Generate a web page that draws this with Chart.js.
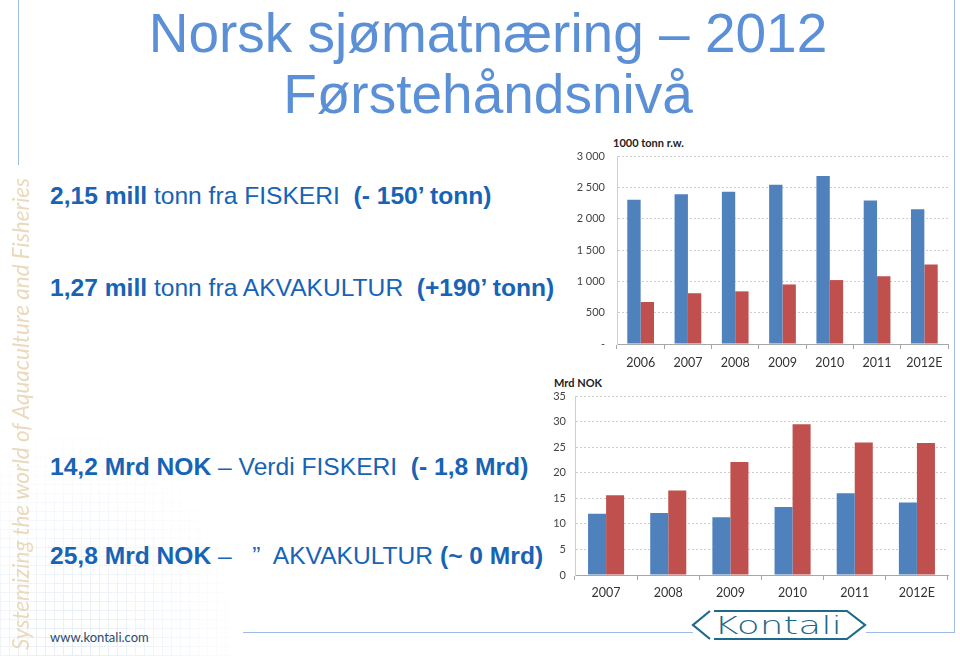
<!DOCTYPE html>
<html>
<head>
<meta charset="utf-8">
<script src="https://cdn.jsdelivr.net/npm/chart.js@4"></script>
<style>
  body { margin: 0; background: #fff; }
  #slide { position: relative; width: 960px; height: 656px; overflow: hidden; background: #fff; font-family: "Liberation Sans", Arial, sans-serif; }
  .abs { position: absolute; }
  .title { left: 0; width: 976px; text-align: center; color: #5b8fd6; font-size: 55px; line-height: 60px; }
  .fact { left: 50px; color: #1763b5; font-size: 24.6px; line-height: 28px; white-space: pre; }
  .fact b { font-weight: bold; }
  .unit { font-family: Lato, "Open Sans", sans-serif; font-weight: bold; font-size: 11px; color: #222; }
  #watermark { left: 7px; top: 158px; height: 492px; writing-mode: vertical-rl; transform: rotate(180deg); font-family: Lato, sans-serif; font-style: italic; font-size: 22.5px; color: #ead9bb; white-space: nowrap; text-align: left; }
  #gridbg { left: 0; top: 430px; width: 245px; height: 226px;
    background-image: linear-gradient(#dfe8f3 1px, transparent 1px), linear-gradient(90deg, #dfe8f3 1px, transparent 1px);
    background-size: 9px 9px;
    -webkit-mask-image: radial-gradient(ellipse at 30% 100%, rgba(0,0,0,0.8), rgba(0,0,0,0) 75%);
    mask-image: radial-gradient(ellipse at 30% 100%, rgba(0,0,0,0.8), rgba(0,0,0,0) 75%); }
  .line { background: #9dbbe6; }
  #web { left: 50px; top: 629px; font-family: Lato, sans-serif; font-size: 13px; color: #2c4a6e; }
</style>
</head>
<body>
<div id="slide">
  <div id="gridbg" class="abs"></div>
  <div class="abs line" style="left:18px;top:0;width:1px;height:165px;"></div>
  <div class="abs line" style="left:954px;top:0;width:1px;height:632px;"></div>
  <div class="abs line" style="left:243px;top:632px;width:450px;height:1px;"></div>
  <div class="abs line" style="left:866px;top:632px;width:89px;height:1px;"></div>

  <div id="watermark" class="abs">Systemizing the world of Aquaculture and Fisheries</div>

  <div class="abs title" style="top:3px;">Norsk sjømatnæring – 2012</div>
  <div class="abs title" style="top:64px;">Førstehåndsnivå</div>

  <div class="abs fact" style="top:182px;"><b>2,15 mill</b> tonn fra FISKERI  <b>(- 150’ tonn)</b></div>
  <div class="abs fact" style="top:274px;"><b>1,27 mill</b> tonn fra AKVAKULTUR  <b>(+190’ tonn)</b></div>
  <div class="abs fact" style="top:453px;"><b>14,2 Mrd NOK</b> – Verdi FISKERI  <b>(- 1,8 Mrd)</b></div>
  <div class="abs fact" style="top:542px;"><b>25,8 Mrd NOK</b> –   ”  AKVAKULTUR <b>(~ 0 Mrd)</b></div>

  <div class="abs unit" style="left:613px;top:136px;">1000 tonn r.w.</div>
  <div class="abs unit" style="left:554px;top:376px;">Mrd NOK</div>

  <canvas id="tonnChart" class="abs" width="395" height="245" style="left:560px;top:130px;"></canvas>
  <canvas id="nokChart" class="abs" width="415" height="230" style="left:540px;top:375px;"></canvas>

  <div id="web" class="abs">www.kontali.com</div>

  <svg class="abs" style="left:690px;top:606px;" width="180" height="40">
    <polyline points="24,5 157,5 175,19 157,33 24,33" fill="none" stroke="#1d6a8a" stroke-width="2.2"/>
    <polyline points="20,5 3,19 20,33" fill="none" stroke="#1d6a8a" stroke-width="2.2"/>
    <text x="24" y="28" font-family="DejaVu Sans, sans-serif" font-size="25" font-weight="200" fill="#1d6a8a" textLength="128" lengthAdjust="spacingAndGlyphs">Kontali</text>
  </svg>
</div>

<script>
// volum, 1000 tonn rundvekt
const tonnYears = ["2006", "2007", "2008", "2009", "2010", "2011", "2012E"];
const tonnFiskeri = [2300, 2390, 2430, 2540, 2680, 2290, 2150];
const tonnAkvakultur = [670, 810, 840, 950, 1020, 1080, 1270];

// verdi, mrd NOK
const nokYears = ["2007", "2008", "2009", "2010", "2011", "2012E"];
const nokFiskeri = [12.0, 12.1, 11.3, 13.3, 16.0, 14.2];
const nokAkvakultur = [15.6, 16.5, 22.1, 29.5, 25.9, 25.8];

const BLUE = "#4f81bd";
const RED = "#c0504d";

function barChart(id, labels, fisk, akva, opts) {
  const ctx = document.getElementById(id).getContext("2d");
  return new Chart(ctx, {
    type: "bar",
    data: {
      labels: labels,
      datasets: [
        { label: "Fiskeri", data: fisk, backgroundColor: BLUE },
        { label: "Akvakultur", data: akva, backgroundColor: RED }
      ]
    },
    options: {
      responsive: false,
      animation: false,
      categoryPercentage: opts.catPct,
      barPercentage: 1,
      layout: { padding: { top: opts.top, right: opts.right, left: 0, bottom: 0 } },
      plugins: { legend: { display: false }, tooltip: { enabled: false } },
      scales: {
        x: {
          grid: { drawOnChartArea: false, drawTicks: true, tickLength: 5, color: "#a6a6a6" },
          border: { display: true, color: "#a6a6a6" },
          ticks: { color: "#333", padding: opts.xPad, font: { family: "Lato", size: 12.5 } },
          afterFit: s => { s.height = opts.xHeight; }
        },
        y: {
          min: 0,
          max: opts.max,
          ticks: {
            stepSize: opts.step,
            color: "#444",
            padding: opts.yPad,
            font: { family: "Lato", size: 11 },
            callback: opts.fmt
          },
          grid: { drawTicks: false, color: "#cfcfcf" },
          border: { display: true, color: "#cfcfcf", dash: [2, 2] },
          afterFit: s => { s.width = opts.yWidth; }
        }
      }
    }
  });
}

barChart("tonnChart", tonnYears, tonnFiskeri, tonnAkvakultur, {
  catPct: 0.565, top: 26, right: 7, max: 3000, step: 500,
  yWidth: 57, yPad: 12, xHeight: 31, xPad: 6,
  fmt: v => v === 0 ? "-" : String(v).replace(/\B(?=(\d{3})+(?!\d))/g, " ")
});

barChart("nokChart", nokYears, nokFiskeri, nokAkvakultur, {
  catPct: 0.58, top: 21, right: 7, max: 35, step: 5,
  yWidth: 35, yPad: 9, xHeight: 30, xPad: 5,
  fmt: v => String(v)
});
</script>
</body>
</html>
